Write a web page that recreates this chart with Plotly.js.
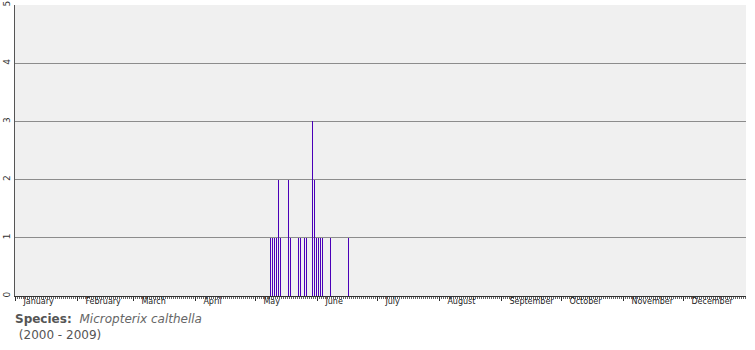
<!DOCTYPE html>
<html>
<head>
<meta charset="utf-8">
<script src="https://cdn.plot.ly/plotly-3.0.1.min.js"></script>
<style>
html,body{margin:0;padding:0;background:#fff;}
#chart{position:absolute;left:0;top:0;width:755px;height:350px;}
#caption{position:absolute;left:15px;top:311px;font-family:"DejaVu Sans",Verdana,sans-serif;font-size:12px;color:#555;line-height:16px;}
#caption b{color:#555;}
#caption i{color:#666;margin-left:4px;}
</style>
</head>
<body>
<div id="chart"></div>
<div id="caption"><b>Species:</b> <i>Micropterix calthella</i><br>&nbsp;(2000 - 2009)</div>
<script>
// day-of-year of each recorded date and its count
const days = [128,129,130,131,132,133,137,138,142,143,145,146,149,150,151,152,153,154,158,167];
const counts = [1,1,1,1,2,1,2,1,1,1,1,1,3,2,1,1,1,1,1,1];
const monthNames = ["January","February","March","April","May","June","July","August","September","October","November","December"];
const monthStarts = [1,32,60,91,121,152,182,213,244,274,305,335];
const yTicks = [0,1,2,3,4,5];

const trace = {
  type:'bar', x:days, y:counts, width:0.5,
  marker:{color:'#4a00b8', line:{width:0}},
  hoverinfo:'none'
};
const layout = {
  width:755, height:350,
  margin:{l:15, r:9, t:5, b:54},
  paper_bgcolor:'rgba(0,0,0,0)', plot_bgcolor:'#f0f0f0',
  showlegend:false, bargap:0,
  font:{family:'"DejaVu Sans", Verdana, sans-serif', size:8, color:'#222'},
  xaxis:{
    range:[0.3,365.8], fixedrange:true,
    tickmode:'array', tickvals:monthStarts.map(d=>d-0.5), ticktext:monthNames,
    ticks:'outside', ticklen:4, tickcolor:'#333', tickwidth:1,
    ticklabelposition:'outside right', ticklabelshift:7, ticklabelstandoff:-3,
    showgrid:false, zeroline:false,
    showline:true, linecolor:'#333', linewidth:1,
    tickfont:{size:8, color:'#222'},
    minor:{tickmode:'linear', tick0:0.5, dtick:1, ticks:'outside', ticklen:2, tickcolor:'#666', tickwidth:1, showgrid:false}
  },
  yaxis:{
    range:[0,5], fixedrange:true,
    tickmode:'array', tickvals:yTicks, ticktext:yTicks.map(String),
    tickangle:-90, ticks:'', ticklen:0,
    showgrid:true, gridcolor:'#8c8c8c', gridwidth:1,
    zeroline:false, showline:true, linecolor:'#555', linewidth:1,
    tickfont:{size:9, color:'#333'}
  }
};
Plotly.newPlot('chart',[trace],layout,{staticPlot:true,displayModeBar:false});
</script>
</body>
</html>
